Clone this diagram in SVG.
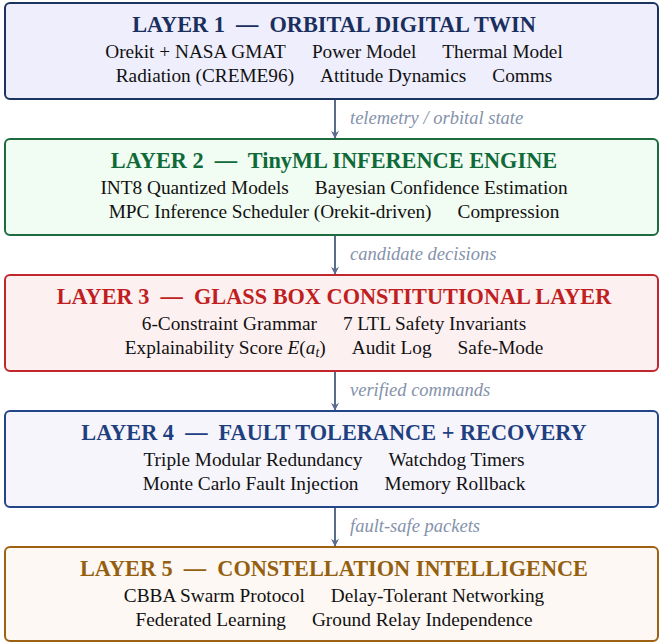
<svg xmlns="http://www.w3.org/2000/svg" width="659" height="643" viewBox="0 0 659 643">
<defs>
<marker id="ah" viewBox="0 0 10 10" refX="9" refY="5" markerWidth="8" markerHeight="8" markerUnits="userSpaceOnUse" orient="auto">
<path d="M0,0 L10,5 L0,10 L3,5 Z" fill="#5b6b8c"/>
</marker>
<style>
.box{stroke-width:2}
.title{font-family:"Liberation Serif","Times New Roman",serif;font-weight:bold;font-size:22.3px;text-anchor:middle}
.body{font-family:"Liberation Serif","Times New Roman",serif;font-size:19.3px;fill:#111;text-anchor:middle}
.lbl{font-family:"Liberation Serif","Times New Roman",serif;font-style:italic;font-size:18.5px;fill:#8592ab}
.conn{stroke:#5b6b8c;stroke-width:2;fill:none}
</style>
</defs>
<g id="layer1">
<rect class="box" x="5" y="3" width="653" height="96" rx="5" fill="#eeeefc" stroke="#1c3360"/>
<text class="title" x="334" y="32" fill="#1a2f5e" xml:space="preserve">LAYER 1  —  ORBITAL DIGITAL TWIN</text>
<text class="body" x="334" y="58">Orekit + NASA GMAT<tspan dx="26">Power Model</tspan><tspan dx="26">Thermal Model</tspan></text>
<text class="body" x="334" y="82">Radiation (CREME96)<tspan dx="26">Attitude Dynamics</tspan><tspan dx="26">Comms</tspan></text>
</g>
<g id="layer2">
<rect class="box" x="5" y="139" width="653" height="96" rx="5" fill="#f1fcf2" stroke="#1f6b40"/>
<text class="title" x="334" y="168" fill="#0f6a3a" xml:space="preserve">LAYER 2  —  TinyML INFERENCE ENGINE</text>
<text class="body" x="334" y="194">INT8 Quantized Models<tspan dx="26">Bayesian Confidence Estimation</tspan></text>
<text class="body" x="334" y="218">MPC Inference Scheduler (Orekit-driven)<tspan dx="26">Compression</tspan></text>
</g>
<g id="layer3">
<rect class="box" x="5" y="275" width="653" height="96" rx="5" fill="#fdf0f1" stroke="#c1272d"/>
<text class="title" x="334" y="304" fill="#c01f22" xml:space="preserve">LAYER 3  —  GLASS BOX CONSTITUTIONAL LAYER</text>
<text class="body" x="334" y="330">6-Constraint Grammar<tspan dx="26">7 LTL Safety Invariants</tspan></text>
<text class="body" x="334" y="354">Explainability Score <tspan font-style="italic">E</tspan>(<tspan font-style="italic">a</tspan><tspan font-style="italic" font-size="14" dy="3">t</tspan><tspan dy="-3">)</tspan><tspan dx="26">Audit Log</tspan><tspan dx="26">Safe-Mode</tspan></text>
</g>
<g id="layer4">
<rect class="box" x="5" y="411" width="653" height="96" rx="5" fill="#f7f5fc" stroke="#23468a"/>
<text class="title" x="334" y="440" fill="#1e3f80" xml:space="preserve">LAYER 4  —  FAULT TOLERANCE + RECOVERY</text>
<text class="body" x="334" y="466">Triple Modular Redundancy<tspan dx="26">Watchdog Timers</tspan></text>
<text class="body" x="334" y="490">Monte Carlo Fault Injection<tspan dx="26">Memory Rollback</tspan></text>
</g>
<g id="layer5">
<rect class="box" x="5" y="547" width="653" height="94" rx="5" fill="#fdf8f4" stroke="#9c6212"/>
<text class="title" x="334" y="576" fill="#94600f" xml:space="preserve">LAYER 5  —  CONSTELLATION INTELLIGENCE</text>
<text class="body" x="334" y="602">CBBA Swarm Protocol<tspan dx="26">Delay-Tolerant Networking</tspan></text>
<text class="body" x="334" y="626">Federated Learning<tspan dx="26">Ground Relay Independence</tspan></text>
</g>
<g id="connectors">
<line class="conn" x1="335" y1="100" x2="335" y2="138" marker-end="url(#ah)"/>
<line class="conn" x1="335" y1="236" x2="335" y2="274" marker-end="url(#ah)"/>
<line class="conn" x1="335" y1="372" x2="335" y2="410" marker-end="url(#ah)"/>
<line class="conn" x1="335" y1="508" x2="335" y2="546" marker-end="url(#ah)"/>
<text class="lbl" x="350" y="124">telemetry / orbital state</text>
<text class="lbl" x="350" y="260">candidate decisions</text>
<text class="lbl" x="350" y="396">verified commands</text>
<text class="lbl" x="350" y="532">fault-safe packets</text>
</g>
</svg>
